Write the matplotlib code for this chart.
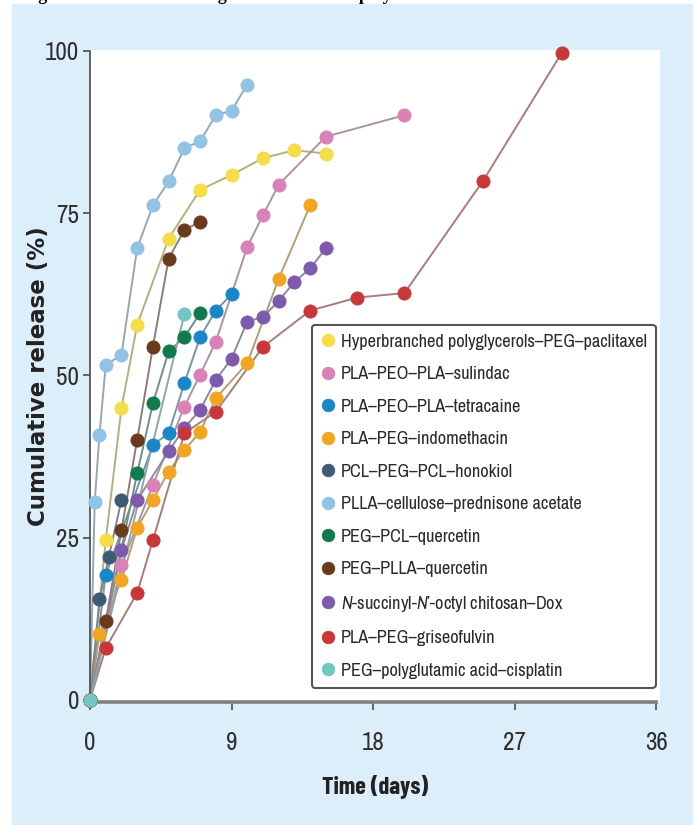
import matplotlib.pyplot as plt
from matplotlib.colors import to_rgb
from matplotlib.patches import Rectangle

# 字体：窄体 Archivo Narrow 做刻度和图例
NARROW = "Archivo Narrow"
plt.rcParams["font.family"] = [NARROW, "DejaVu Sans"]
plt.rcParams["mathtext.fontset"] = "custom"
plt.rcParams["mathtext.it"] = NARROW + ":italic"
plt.rcParams["mathtext.rm"] = NARROW

# data (x: days, y: cumulative release %)
names = [
    "Hyperbranched polyglycerols\u2013PEG\u2013paclitaxel",
    "PLA\u2013PEO\u2013PLA\u2013sulindac",
    "PLA\u2013PEO\u2013PLA\u2013tetracaine",
    "PLA\u2013PEG\u2013indomethacin",
    "PCL\u2013PEG\u2013PCL\u2013honokiol",
    "PLLA\u2013cellulose\u2013prednisone acetate",
    "PEG\u2013PCL\u2013quercetin",
    "PEG\u2013PLLA\u2013quercetin",
    "$N$-succinyl-$N$\u2032-octyl chitosan\u2013Dox",
    "PLA\u2013PEG\u2013griseofulvin",
    "PEG\u2013polyglutamic acid\u2013cisplatin",
]
colors = ["#f4dc4a", "#d982b6", "#1b86c6", "#f0a624", "#3f5a72", "#92c3e4",
          "#13794e", "#6a3a1f", "#7d5aab", "#c7383b", "#72c6bf"]

paclitaxel_x = [0, 1, 2, 3, 5, 7, 9, 11, 13, 15]
paclitaxel_y = [0, 24.6, 45, 57.8, 71.1, 78.6, 80.9, 83.5, 84.7, 84.2]
sulindac_x = [0, 2, 4, 6, 7, 8, 10, 11, 12, 15, 20]
sulindac_y = [0, 20.8, 33.1, 45.2, 50.1, 55.2, 69.8, 74.7, 79.4, 86.8, 90.1]
tetracaine_x = [0, 1, 4, 5, 6, 7, 8, 9]
tetracaine_y = [0, 19.3, 39.3, 41.1, 48.8, 55.9, 60, 62.5]
indomethacin_x = [0, 0.6, 2, 3, 4, 5, 6, 7, 8, 10, 12, 14]
indomethacin_y = [0, 10.1, 18.5, 26.5, 30.8, 35.2, 38.5, 41.3, 46.5, 51.9, 64.9, 76.2]
honokiol_x = [0, 0.6, 1.2, 2]
honokiol_y = [0, 15.5, 22.1, 30.8]
prednisone_x = [0, 0.3, 0.6, 1, 2, 3, 4, 5, 6, 7, 8, 9, 10]
prednisone_y = [0, 30.5, 40.8, 51.6, 53.2, 69.6, 76.2, 79.9, 85.0, 86.1, 90.1, 90.8, 94.8]
pcl_quercetin_x = [0, 3, 4, 5, 6, 7]
pcl_quercetin_y = [0, 34.9, 45.7, 53.7, 55.9, 59.6]
plla_quercetin_x = [0, 1, 2, 3, 4, 5, 6, 7]
plla_quercetin_y = [0, 12.1, 26.2, 40.1, 54.4, 68.0, 72.4, 73.7]
dox_x = [0, 2, 3, 5, 6, 7, 8, 9, 10, 11, 12, 13, 14, 15]
dox_y = [0, 23.1, 30.8, 38.3, 41.9, 44.7, 49.3, 52.6, 58.3, 59, 61.5, 64.4, 66.5, 69.6]
griseofulvin_x = [0, 1, 3, 4, 6, 8, 11, 14, 17, 20, 25, 30]
griseofulvin_y = [0, 8, 16.5, 24.6, 41.1, 44.4, 54.4, 60, 62, 62.7, 80, 99.7]
cisplatin_x = [0, 6]
cisplatin_y = [0, 59.4]

series_x = [paclitaxel_x, sulindac_x, tetracaine_x, indomethacin_x, honokiol_x,
            prednisone_x, pcl_quercetin_x, plla_quercetin_x, dox_x,
            griseofulvin_x, cisplatin_x]
series_y = [paclitaxel_y, sulindac_y, tetracaine_y, indomethacin_y, honokiol_y,
            prednisone_y, pcl_quercetin_y, plla_quercetin_y, dox_y,
            griseofulvin_y, cisplatin_y]

W, H = 697, 825
fig = plt.figure(figsize=(W / 100, H / 100), dpi=100)

# 浅蓝色背景面板
fig.patches.append(Rectangle((12 / W, 1 - 824 / H), 680 / W, 820 / H,
                             transform=fig.transFigure, color="#ddeefb", zorder=-5))

# 被裁掉的图题（只露出下伸部分）
fig.text(22 / W, 1.0, "Figure 1. Cumulative drug release from the polymeric micelles",
         family="Liberation Serif", weight="bold", fontsize=13, va="baseline",
         color="black")

ax = fig.add_axes([90 / W, 1 - 702 / H, 570 / W, 652 / H])
ax.set_facecolor("white")

gray = to_rgb("#9a9a9a")
for x, y, c in zip(series_x, series_y, colors):
    lc = tuple(0.3 * a + 0.7 * b for a, b in zip(to_rgb(c), gray))
    ax.plot(x, y, color=lc, lw=1.4, zorder=2, clip_on=False)
for x, y, c, name in zip(series_x, series_y, colors, names):
    ax.plot(x, y, ls="none", marker="o", ms=9.5, mfc=c, mec=c, mew=0.6,
            label=name, zorder=3, clip_on=False)

ax.set_xlim(0, 36.25)
ax.set_ylim(-0.31, 100.15)
ax.set_xticks([0, 9, 18, 27, 36])
ax.set_yticks([0, 25, 50, 75, 100])

for s in ["top", "right"]:
    ax.spines[s].set_visible(False)
ax.spines["left"].set_color("#4a4a4a")
ax.spines["left"].set_linewidth(1.2)
ax.spines["left"].set_bounds(0, 100)
ax.spines["bottom"].set_color("#808080")
ax.spines["bottom"].set_linewidth(2.6)
ax.spines["bottom"].set_bounds(0, 36)

ax.tick_params(axis="y", direction="out", length=5, width=1.2, color="#4a4a4a",
               labelsize=18, labelcolor="#2e2e2e", pad=3)
ax.tick_params(axis="x", direction="out", length=6, width=1.2, color="#4a4a4a",
               labelsize=18, labelcolor="#2e2e2e", pad=15)

ax.set_xlabel("Time (days)", family="Barlow Condensed", fontsize=17.5,
              weight="bold", color="#222222", labelpad=15)
ax.set_ylabel("Cumulative release (%)", family="DejaVu Sans", fontsize=16.5,
              weight="bold", color="#222222")
ax.yaxis.set_label_coords(-0.07, 0.5)

leg = ax.legend(loc="lower right", bbox_to_anchor=(0.993, 0.0215), borderaxespad=0,
                fontsize=13.2, frameon=True, fancybox=True, markerscale=0.95,
                handlelength=0.85, handletextpad=0.25, labelspacing=0.9,
                borderpad=0.5, labelcolor="#2a2a2a")
leg.get_frame().set_edgecolor("#555555")
leg.get_frame().set_linewidth(1.5)
leg.get_frame().set_alpha(1)

fig.savefig("out.png", dpi=100)
